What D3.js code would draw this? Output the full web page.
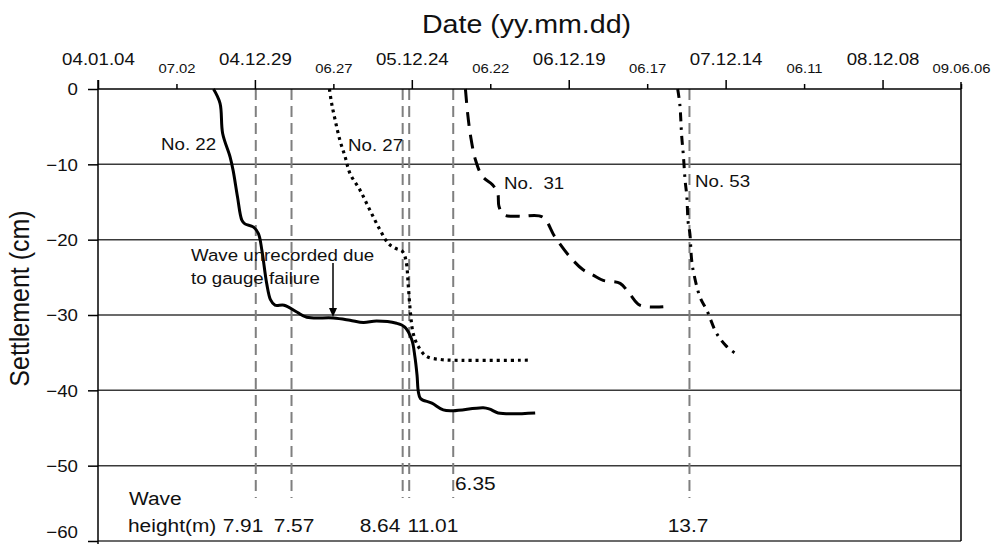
<!DOCTYPE html>
<html><head><meta charset="utf-8">
<script src="https://cdn.jsdelivr.net/npm/d3@7"></script>
<style>
html,body{margin:0;padding:0;background:#fff;}
svg{display:block;font-family:"Liberation Sans",Arial,sans-serif;}
</style></head><body>
<svg id="chart" width="992" height="544"></svg>
<script>
// ---------- data ----------
const majorTicks = ["04.01.04","04.12.29","05.12.24","06.12.19","07.12.14","08.12.08"];
const minorTicks = ["04.07.02","05.06.27","06.06.22","07.06.17","08.06.11","09.06.06"];
const minorLabels = ["07.02","06.27","06.22","06.17","06.11","09.06.06"];
const yTicks = [0,-10,-20,-30,-40,-50,-60];

const waveDates = ["04.12.31","05.03.23","05.12.03","05.12.18","06.03.29","07.09.22"];
const waveHeights = ["7.91","7.57","8.64","11.01","6.35","13.7"];

const no22Dates = ["04.09.25","04.10.10","04.10.16","04.11.02","04.11.09","04.11.19","04.11.29","04.12.06","04.12.25","05.01.06","05.01.14","05.01.25","05.02.03","05.02.13","05.03.06","05.04.04","05.04.27","05.06.27","05.08.04","05.09.04","05.10.04","05.11.19","05.12.08","05.12.24","05.12.31","06.01.05","06.01.08","06.01.13","06.02.08","06.03.06","06.03.29","06.06.06","06.06.21","06.07.10","06.10.03"];
const no22Values = [0,-1.9,-5.9,-9.0,-10.8,-14.3,-17.4,-17.9,-18.3,-19.2,-21.4,-25.8,-28.0,-28.7,-28.7,-29.6,-30.3,-30.4,-30.7,-31.0,-30.8,-31.1,-31.6,-33.3,-35.5,-38.0,-40.2,-41.1,-41.7,-42.6,-42.7,-42.3,-42.5,-43.0,-43.0];

const no27Dates = ["05.06.18","05.06.23","05.07.01","05.07.12","05.07.24","05.08.04","05.08.27","05.09.19","05.10.12","05.10.31","05.11.15","05.12.03","05.12.11","05.12.16","05.12.21","05.12.27","06.01.08","06.01.27","06.02.27","06.03.29","06.09.21"];
const no27Values = [0,-1.9,-4.1,-6.8,-9.0,-11.2,-13.4,-16.1,-18.7,-20.5,-21.1,-21.6,-22.9,-26.2,-29.8,-32.4,-34.2,-35.5,-35.9,-36.0,-36.0];

const no31Dates = ["06.04.26","06.05.01","06.05.08","06.05.19","06.06.04","06.06.27","06.07.09","06.07.12","06.07.23","06.08.29","06.10.20","06.11.17","06.12.22","07.01.21","07.02.13","07.03.08","07.04.16","07.05.09","07.05.31","07.07.24"];
const no31Values = [0,-3.2,-6.3,-9.4,-11.6,-12.7,-13.8,-15.6,-16.7,-16.9,-17.0,-19.6,-22.3,-24.0,-24.7,-25.4,-25.8,-27.3,-28.7,-28.9];

const no53Dates = ["07.08.26","07.08.31","07.09.04","07.09.08","07.09.12","07.09.16","07.09.19","07.09.23","07.09.27","07.10.02","07.10.16","07.11.01","07.11.23","07.12.15","08.01.08"];
const no53Values = [0,-2.1,-6.1,-8.8,-12.1,-14.3,-17.7,-19.2,-22.7,-24.5,-27.6,-29.4,-32.4,-34.1,-35.2];

// ---------- setup ----------
const parse = d3.utcParse("%y.%m.%d");
const SX = 1.1; // horizontal stretch of the original text
const svg = d3.select("#chart");
const L = 98, R = 961, T = 89, B = 541;

const x = d3.scaleUtc().domain([parse("04.01.04"), parse("09.06.06")]).range([L, R]);
const y = d3.scaleLinear().domain([0, -60]).range([T, B]);

function txt(parent, px, py, s, size, anchor) {
  return parent.append("text")
    .attr("transform", `translate(${px},${py}) scale(${SX},1)`)
    .attr("text-anchor", anchor || "start")
    .style("font-size", size + "px")
    .attr("fill", "#111")
    .text(s);
}

// gridlines
svg.append("g").selectAll("line").data(yTicks.filter(d => d !== 0)).join("line")
  .attr("x1", L).attr("x2", R).attr("y1", d => y(d)).attr("y2", d => y(d))
  .attr("stroke", "#3a3a3a").attr("stroke-width", 1.5);

// wave event vertical dashed lines
svg.append("g").selectAll("line").data(waveDates).join("line")
  .attr("x1", d => x(parse(d))).attr("x2", d => x(parse(d)))
  .attr("y1", T).attr("y2", y(-54.3))
  .attr("stroke", "#7f7f7f").attr("stroke-width", 2)
  .attr("stroke-dasharray", "11,6");

// top axis (major)
const gTop = svg.append("g").attr("transform", `translate(0,${T})`)
  .call(d3.axisTop(x).tickValues(majorTicks.map(parse)).tickSize(9)
    .tickFormat(d3.utcFormat("%y.%m.%d")));
gTop.select(".domain").remove();
gTop.selectAll(".tick line").attr("stroke", "#000").attr("stroke-width", 1.5);
gTop.selectAll(".tick text").attr("y", 0).attr("dy", 0)
  .attr("transform", `translate(0,-24) scale(${SX},1)`)
  .style("font-size", "17px").attr("fill", "#111")
  .style("font-family", '"Liberation Sans",Arial,sans-serif');

// top axis (minor)
const gTop2 = svg.append("g").attr("transform", `translate(0,${T})`)
  .call(d3.axisTop(x).tickValues(minorTicks.map(parse)).tickSize(5)
    .tickFormat((d, i) => minorLabels[i]));
gTop2.select(".domain").remove();
gTop2.selectAll(".tick line").attr("stroke", "#000").attr("stroke-width", 1.5);
gTop2.selectAll(".tick text").attr("y", 0).attr("dy", 0)
  .attr("transform", `translate(0,-16) scale(${SX},1)`)
  .style("font-size", "13.5px").attr("fill", "#111")
  .style("font-family", '"Liberation Sans",Arial,sans-serif');

// left axis
const gLeft = svg.append("g").attr("transform", `translate(${L},0)`)
  .call(d3.axisLeft(y).tickValues(yTicks).tickSize(10).tickFormat(d3.format("d")));
gLeft.select(".domain").remove();
gLeft.selectAll(".tick line").attr("stroke", "#000").attr("stroke-width", 1.5);
gLeft.selectAll(".tick text").attr("x", 0).attr("dy", "0.35em")
  .attr("transform", d => `translate(-20,${d === -60 ? -9 : 0}) scale(${SX},1)`)
  .style("font-size", "17px").attr("fill", "#111")
  .style("font-family", '"Liberation Sans",Arial,sans-serif');

// frame lines
svg.append("line").attr("x1", L).attr("x2", R).attr("y1", T).attr("y2", T)
  .attr("stroke", "#000").attr("stroke-width", 1.5);
svg.append("line").attr("x1", L).attr("x2", L).attr("y1", T - 9).attr("y2", 544)
  .attr("stroke", "#000").attr("stroke-width", 1.5);
svg.append("line").attr("x1", R).attr("x2", R).attr("y1", T - 7).attr("y2", B)
  .attr("stroke", "#000").attr("stroke-width", 1.5);

// series
const line = d3.line().x(d => x(d[0])).y(d => y(d[1])).curve(d3.curveCatmullRom.alpha(0.5));
function series(dates, values, dash, width) {
  const pts = dates.map((d, i) => [parse(d), values[i]]);
  svg.append("path").attr("d", line(pts)).attr("fill", "none")
    .attr("stroke", "#000").attr("stroke-width", width)
    .attr("stroke-dasharray", dash);
}
series(no22Dates, no22Values, null, 3);
series(no27Dates, no27Values, "3,4", 3.2);
series(no31Dates, no31Values, "14,9", 3);
series(no53Dates, no53Values, "9,6,2.5,6", 3);

// series labels
txt(svg, 161, 150, "No. 22", 17);
txt(svg, 348, 151, "No. 27", 17);
txt(svg, 504, 189, "No.\u00a0 31", 17);
txt(svg, 695, 187, "No. 53", 17);

// annotation with arrow
txt(svg, 191, 261, "Wave unrecorded due", 17);
txt(svg, 191, 284, "to gauge failure", 17);
svg.append("line").attr("x1", 333).attr("x2", 333).attr("y1", 263).attr("y2", 309)
  .attr("stroke", "#000").attr("stroke-width", 1.5);
svg.append("path").attr("d", "M329,308 L337,308 L333,317 Z").attr("fill", "#000");

// wave height labels
txt(svg, 129, 505, "Wave", 19);
txt(svg, 128, 532, "height(m)", 19);
const whPos = [[243,532,"middle"],[294,532,"middle"],[380,532,"middle"],[433,532,"middle"],[455,490,"start"],[688,532,"middle"]];
waveHeights.forEach((h, i) => txt(svg, whPos[i][0], whPos[i][1], h, 19, whPos[i][2]));

// titles
txt(svg, 526.5, 33, "Date (yy.mm.dd)", 26, "middle");
svg.append("text")
  .attr("transform", `translate(29,298.5) scale(${SX},1) rotate(-90)`)
  .attr("text-anchor", "middle").style("font-size", "25px").attr("fill", "#111")
  .text("Settlement (cm)");
</script>
</body></html>
